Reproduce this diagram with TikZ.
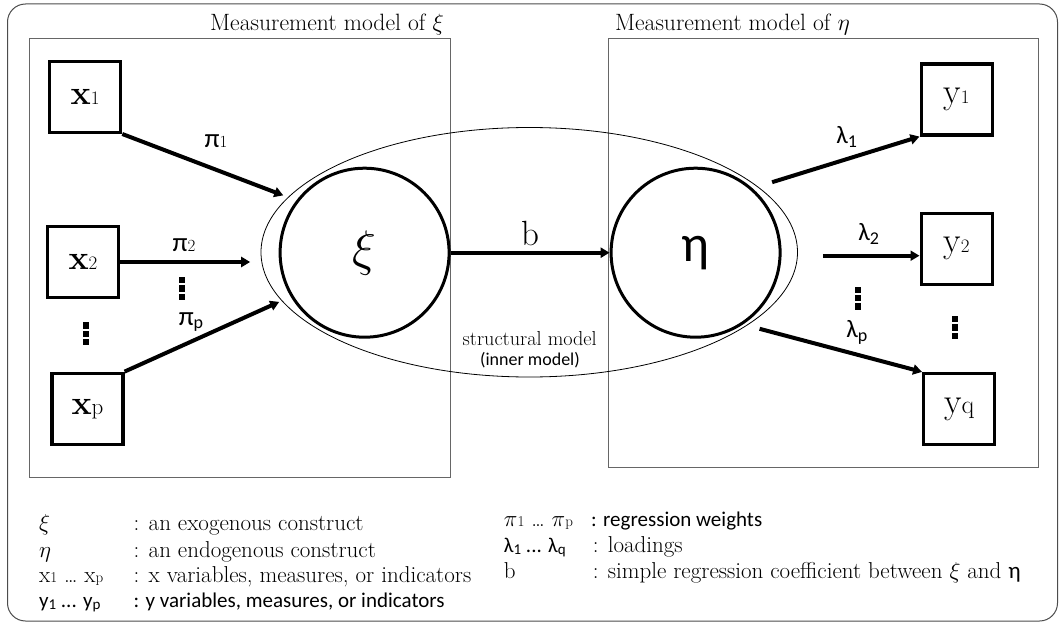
\documentclass[tikz,border=0pt]{standalone}
\usepackage{fix-cm}
\usepackage{fontspec}
\newfontfamily\carl{Carlito}
\usetikzlibrary{arrows.meta,shapes.geometric}
\newcommand{\fsz}[1]{\fontsize{#1}{#1}\selectfont}

\tikzset{
  panel/.style={draw=black!60, line width=1pt, inner sep=0pt},
  indicator/.style={draw, line width=3.2pt, minimum width=71pt, minimum height=71pt, inner sep=0pt},
  construct/.style={draw, circle, line width=3pt, minimum size=169pt, inner sep=0pt},
  weight/.style={line width=4pt, -{Triangle[length=9pt,width=10pt]}},
  txt/.style={inner sep=0pt, anchor=base west},
  lbl/.style={inner sep=0pt},
  sqdots/.pic={\foreach \k in {-1,0,1} \fill (-3,\k*8.4-3.1) rectangle (3,\k*8.4+3.1);}
}

\begin{document}
\begin{tikzpicture}[x=1pt,y=-1pt]
\useasboundingbox (0,0) rectangle (1061,623);

% outer frame
\draw[black!70, line width=1pt, rounded corners=18pt] (7.5,4) rectangle (1057.5,621);

% measurement model panels
\node[panel, minimum width=420.9pt, minimum height=439.3pt] (mxi) at (240.15,257.85) {};
\node[panel, minimum width=429.7pt, minimum height=429.3pt] (meta) at (823.75,252.95) {};
\node[lbl, anchor=base] (tmxi) at (327,30.4) {\fsz{23.6}Measurement model of $\xi$};
\node[lbl, anchor=base] (tmeta) at (732.4,30.4) {\fsz{23.6}Measurement model of $\eta$};

% structural model
\node[draw, ellipse, line width=0.8pt, minimum width=536.5pt, minimum height=249.5pt, inner sep=0pt] (inner) at (529.25,252.25) {};
\node[lbl, anchor=base] (tstruct) at (529.7,345) {\fsz{20.2}structural model};
\node[lbl, anchor=base] (tinner) at (530,365) {\carl\fsz{18}(inner model)};

% constructs
\node[construct] (xi) at (364.6,252.7) {\fsz{50}$\xi$};
\node[construct] (eta) at (695.6,252.7) {\carl\fsz{52}η};

% indicators
\node[indicator] (x1) at (85.2,96.9) {{\fsz{34}\bfseries x}{\fsz{19}1}};
\node[indicator] (x2) at (83,261.6) {{\fsz{34}\bfseries x}{\fsz{19}2}};
\node[indicator] (xp) at (87.5,408.7) {{\fsz{34}\bfseries x}{\fsz{23}p}};
\node[indicator] (y1) at (956.6,99.5) {{\fsz{36}y}{\fsz{19}1}};
\node[indicator] (y2) at (956.6,248.8) {{\fsz{36}y}{\fsz{19}2}};
\node[indicator] (yq) at (959.2,409) {{\fsz{36}y}{\fsz{26}q}};

% arrow ends
\coordinate (e1) at (283.3,195.4);
\coordinate (e2) at (250.2,262);
\coordinate (ep) at (279.2,301.9);
\coordinate (s1) at (772.1,182.2);
\coordinate (s2) at (822.9,255.7);
\coordinate (sq) at (759.6,328.8);

% paths
\draw[weight] (x1.south east) -- (e1);
\draw[weight] (x2.east |- e2) -- (e2);
\draw[weight] (xp.north east) -- (ep);
\draw[weight] (xi.east) -- (eta.west);
\draw[weight] (s1) -- (y1.south west);
\draw[weight] (s2) -- (s2 -| y2.west);
\draw[weight] (sq) -- (yq.north west);

% path labels
\node[lbl] (lpi1) at (216,141) {{\carl\fsz{27}π}{\fsz{17}1}};
\node[lbl] (lpi2) at (184,245) {{\carl\fsz{27}π}{\fsz{17}2}};
\node[lbl] (lpip) at (191,322) {{\carl\fsz{27}π\raisebox{-3pt}{\fsz{18}p}}};
\node[lbl] (lb) at (530,233.3) {\fsz{35}b};
\node[lbl] (llam1) at (846.6,137.1) {{\carl\fsz{25}λ\raisebox{-4pt}{\fsz{18}1}}};
\node[lbl] (llam2) at (868.6,233.7) {{\carl\fsz{25}λ\raisebox{-4pt}{\fsz{18}2}}};
\node[lbl] (llamp) at (856.8,332.2) {{\carl\fsz{25}λ\raisebox{-4pt}{\fsz{18}p}}};

% omitted indicators
\pic at (181.9,288.5) {sqdots};
\pic at (86.2,333.8) {sqdots};
\pic at (857.8,298) {sqdots};
\pic at (955,327.5) {sqdots};

% legend, left column
\node[txt] (k1) at (38.9,530) {\fsz{23}$\xi$};
\node[txt] (k2) at (38.9,557) {\fsz{23}$\eta$};
\node[txt] (k3) at (38.9,582) {\fsz{23}x{\fsz{15}1} \dots\ x{\fsz{15}p}};
\node[txt] (k4) at (38.9,607.6) {\carl\fsz{21}y\raisebox{-2pt}{\fsz{15}1} ... y\raisebox{-2pt}{\fsz{15}p}};
\node[txt] (d1) at (133.5,530) {\fsz{23}: an exogenous construct};
\node[txt] (d2) at (133.5,557) {\fsz{23}: an endogenous construct};
\node[txt] (d3) at (133.5,582) {\fsz{23}: x variables, measures, or indicators};
\node[txt] (d4) at (133.5,607.6) {\carl\fsz{21}: y variables, measures, or indicators};

% legend, right column
\node[txt] (k5) at (503.7,526) {\fsz{23}$\pi${\fsz{15}1} \dots\ $\pi${\fsz{15}p}};
\node[txt] (k6) at (503.7,552) {\carl\fsz{21}λ\raisebox{-2pt}{\fsz{15}1} ... λ\raisebox{-2pt}{\fsz{15}q}};
\node[txt] (k7) at (503.7,578) {\fsz{23}b};
\node[txt] (d5) at (591,526) {\carl\fsz{21}: regression weights};
\node[txt] (d6) at (592.6,552) {\fsz{23}: loadings};
\node[txt] (d7) at (592.6,578) {\fsz{23}: simple regression coefficient between $\xi$ and {\carl η}};
\end{tikzpicture}
\end{document}
